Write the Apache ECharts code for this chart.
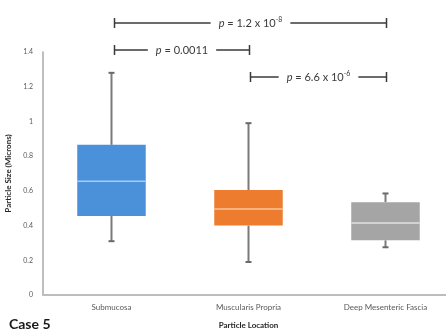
<!DOCTYPE html>
<html>
<head>
<meta charset="utf-8">
<script src="https://cdn.jsdelivr.net/npm/echarts@6/dist/echarts.min.js"></script>
<style>
html,body{margin:0;padding:0;background:#fff;}
#c{width:446px;height:331px;}
</style>
</head>
<body>
<div id="c"></div>
<script>
// ---- data ----
var categories = ['Submucosa', 'Muscularis Propria', 'Deep Mesenteric Fascia'];
var whiskerMin = [0.31, 0.19, 0.275];
var quartile1 = [0.455, 0.40, 0.315];
var medians = [0.655, 0.495, 0.415];
var quartile3 = [0.865, 0.605, 0.535];
var whiskerMax = [1.28, 0.99, 0.585];
var yTicks = [0, 0.2, 0.4, 0.6, 0.8, 1, 1.2, 1.4];
// comparisons: [from category, to category], p value text (mantissa, exponent)
var compFrom = [0, 0, 1];
var compTo = [2, 1, 2];
var pMantissa = ['1.2 x 10', '0.0011', '6.6 x 10'];
var pExponent = ['-8', '', '-6'];

// ---- styles / layout ----
var boxColors = ['#4A91DA', '#EE7C2F', '#A5A5A5'];
var medianColors = ['#A8CDF1', '#F9C49A', '#E2E2E2'];
var bracketY = [23, 50, 77];
var FONT = 'Lato, "Open Sans", sans-serif';

var boxData = categories.map(function (c, i) {
  return [i, whiskerMin[i], quartile1[i], medians[i], quartile3[i], whiskerMax[i]];
});
var compData = compFrom.map(function (f, i) { return [f, compTo[i], i]; });

var chart = echarts.init(document.getElementById('c'), null, {renderer: 'canvas'});

function renderBox(params, api) {
  var i = api.value(0);
  var x = api.coord([i, 0])[0];
  var bw = api.size([1, 0])[0] * 0.5;
  var yMin = api.coord([i, api.value(1)])[1];
  var yQ1 = api.coord([i, api.value(2)])[1];
  var yMed = api.coord([i, api.value(3)])[1];
  var yQ3 = api.coord([i, api.value(4)])[1];
  var yMax = api.coord([i, api.value(5)])[1];
  var wStyle = {stroke: '#7a7a7a', lineWidth: 2};
  var capStyle = {stroke: '#6a6a6a', lineWidth: 2};
  return {
    type: 'group',
    children: [
      {type: 'line', shape: {x1: x, y1: yMax, x2: x, y2: yQ3}, style: wStyle},
      {type: 'line', shape: {x1: x, y1: yMin, x2: x, y2: yQ1}, style: wStyle},
      {type: 'line', shape: {x1: x - 3, y1: yMax, x2: x + 3, y2: yMax}, style: capStyle},
      {type: 'line', shape: {x1: x - 3, y1: yMin, x2: x + 3, y2: yMin}, style: capStyle},
      {type: 'rect', shape: {x: x - bw / 2, y: yQ3, width: bw, height: yQ1 - yQ3},
        style: {fill: boxColors[i]}},
      {type: 'line', shape: {x1: x - bw / 2, y1: yMed, x2: x + bw / 2, y2: yMed},
        style: {stroke: medianColors[i], lineWidth: 1.5}}
    ]
  };
}

function renderComp(params, api) {
  var a = api.value(0), b = api.value(1), k = api.value(2);
  var x1 = api.coord([a, 0])[0] + (a === 0 ? 3 : 2);
  var x2 = api.coord([b, 0])[0] + 1;
  var y = bracketY[k];
  var ls = {stroke: '#3a3a3a', lineWidth: 1.5};
  var txt = '{i|p} = ' + pMantissa[k] + (pExponent[k] ? '{s|' + pExponent[k] + '}' : '');
  return {
    type: 'group',
    children: [
      {type: 'line', shape: {x1: x1, y1: y, x2: x2, y2: y}, style: ls},
      {type: 'line', shape: {x1: x1, y1: y - 5, x2: x1, y2: y + 5}, style: ls},
      {type: 'line', shape: {x1: x2, y1: y - 5, x2: x2, y2: y + 5}, style: ls},
      {type: 'text', x: (x1 + x2) / 2, y: y,
        style: {
          text: txt, align: 'center', verticalAlign: 'middle',
          fontSize: 11, fontFamily: FONT, fill: '#3a3a3a',
          backgroundColor: '#fff', padding: [0, 8],
          rich: {
            i: {fontSize: 11, fontStyle: 'italic', fontFamily: FONT, fill: '#3a3a3a', lineHeight: 14},
            s: {fontSize: 7, fontFamily: FONT, fill: '#3a3a3a', verticalAlign: 'top', lineHeight: 9}
          }
        }}
    ]
  };
}

chart.setOption({
  animation: false,
  backgroundColor: '#fff',
  grid: {left: 43, right: -8, top: 52, bottom: 36, containLabel: false, outerBoundsMode: 'none'},
  xAxis: {
    type: 'category',
    data: categories,
    name: 'Particle Location',
    nameLocation: 'middle',
    nameGap: 26,
    nameTextStyle: {fontSize: 8, fontWeight: 'bold', color: '#262626', fontFamily: FONT},
    axisLine: {lineStyle: {color: '#bdbdbd', width: 2}},
    axisTick: {show: false},
    axisLabel: {fontSize: 8, color: '#595959', fontFamily: FONT, margin: 8},
    splitLine: {show: false}
  },
  yAxis: {
    type: 'value',
    min: 0, max: 1.4, interval: 0.2,
    name: 'Particle Size (Microns)',
    nameLocation: 'middle',
    nameGap: 26,
    nameTextStyle: {fontSize: 8, fontWeight: 'bold', color: '#262626', fontFamily: FONT},
    axisLine: {show: true, lineStyle: {color: '#a8a8a8', width: 1.5}},
    axisTick: {show: false},
    axisLabel: {fontSize: 7, color: '#595959', fontFamily: FONT, margin: 10,
      formatter: function (v) { return String(yTicks[Math.round(v / 0.2)]); }},
    splitLine: {show: false}
  },
  graphic: [{
    type: 'text', left: 9, top: 317,
    style: {text: 'Case 5', fontSize: 14, fontWeight: 'bold', fill: '#1a1a1a', fontFamily: FONT}
  }],
  series: [
    {type: 'custom', renderItem: renderBox, data: boxData, encode: {x: 0, y: [1, 2, 3, 4, 5]}, z: 2},
    {type: 'custom', renderItem: renderComp, data: compData, encode: {x: [0, 1]}, clip: false, z: 3}
  ]
});
</script>
</body>
</html>
